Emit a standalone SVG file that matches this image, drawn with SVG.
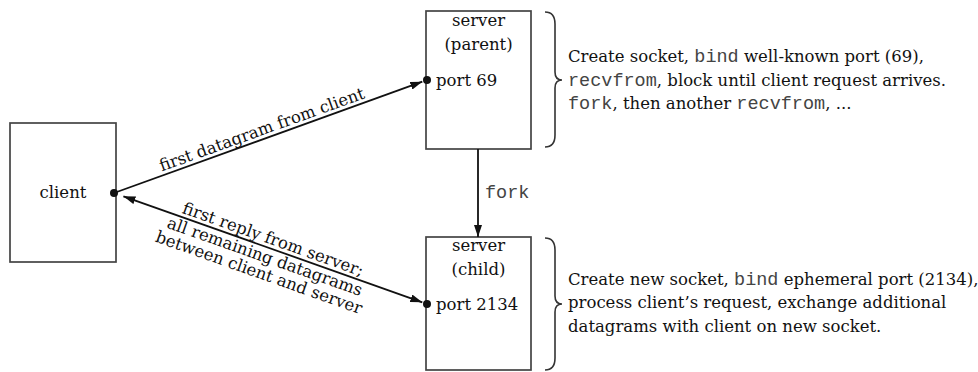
<svg xmlns="http://www.w3.org/2000/svg" width="978" height="372" viewBox="0 0 978 372">
<defs>
<style>
.box{fill:#fff;stroke:#444;stroke-width:1.7}
.t{font-family:"DejaVu Serif","Liberation Serif",serif;font-size:16.5px;fill:#111}
.m{font-family:"Liberation Mono","Courier New",monospace;font-size:18.5px;fill:#444}
.c{text-anchor:middle}
.ln{stroke:#111;stroke-width:1.8;fill:none}
.br{stroke:#333;stroke-width:1.6;fill:none}
</style>
<marker id="ah" viewBox="0 0 12 8" refX="12" refY="4" markerWidth="12" markerHeight="8" markerUnits="userSpaceOnUse" orient="auto-start-reverse">
<path d="M0,0 L12,4 L0,8 z" fill="#111"/>
</marker>
</defs>
<g id="client">
<rect class="box" x="10" y="123" width="106" height="139"/>
<text class="t c" x="63" y="198">client</text>
</g>
<g id="server-parent">
<rect class="box" x="426" y="11" width="105" height="138"/>
<text class="t c" x="478.5" y="26">server</text>
<text class="t c" x="478.5" y="50">(parent)</text>
<text class="t" x="436" y="86">port 69</text>
</g>
<g id="server-child">
<rect class="box" x="426" y="237" width="105" height="133"/>
<text class="t c" x="478.5" y="251">server</text>
<text class="t c" x="478.5" y="275">(child)</text>
<text class="t" x="436" y="310">port 2134</text>
</g>
<g id="parent-note">
<path class="br" d="M545,12 Q555,12 555,24 L555,72 Q555,80 562,80 Q555,80 555,88 L555,135 Q555,147 545,147"/>
<text class="t" x="568" y="62">Create socket, <tspan class="m">bind</tspan> well-known port (69),</text>
<text class="t" x="568" y="86"><tspan class="m">recvfrom</tspan>, block until client request arrives.</text>
<text class="t" x="568" y="109"><tspan class="m">fork</tspan>, then another <tspan class="m">recvfrom</tspan>, ...</text>
</g>
<g id="child-note">
<path class="br" d="M545,238 Q555,238 555,250 L555,296 Q555,304 562,304 Q555,304 555,312 L555,358 Q555,370 545,370"/>
<text class="t" x="568" y="285">Create new socket, <tspan class="m">bind</tspan> ephemeral port (2134),</text>
<text class="t" x="568" y="308">process client’s request, exchange additional</text>
<text class="t" x="568" y="332">datagrams with client on new socket.</text>
</g>
<g id="connectors">
<line class="ln" x1="114" y1="193" x2="422.3" y2="81.7" marker-end="url(#ah)"/>
<line class="ln" x1="123.4" y1="196.3" x2="422.3" y2="302.3" marker-start="url(#ah)" marker-end="url(#ah)"/>
<line class="ln" x1="478" y1="149" x2="478" y2="237" marker-end="url(#ah)"/>
<circle cx="114" cy="193" r="4" fill="#111"/>
<circle cx="427" cy="80" r="4" fill="#111"/>
<circle cx="427" cy="304" r="4" fill="#111"/>
<g transform="translate(265,138.5) rotate(-19.85)">
<text class="t c" x="0" y="-4">first datagram from client</text>
</g>
<g transform="translate(268,247.6) rotate(19.52)">
<text class="t c" x="2" y="-4">first reply from server;</text>
<text class="t c" x="0" y="15">all remaining datagrams</text>
<text class="t c" x="0" y="32">between client and server</text>
</g>
<text class="m" x="485" y="198">fork</text>
</g>
</svg>
